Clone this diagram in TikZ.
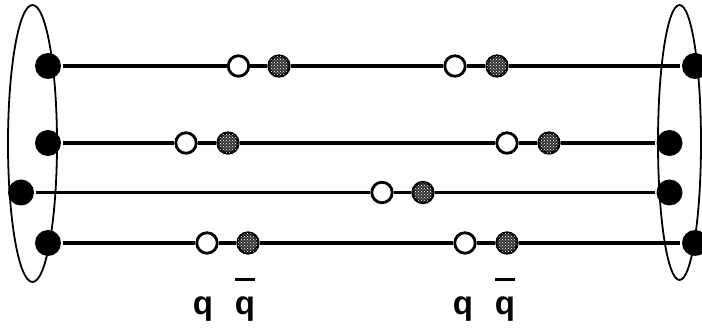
\documentclass[tikz,border=0pt]{standalone}
\usepackage{fontspec}
\setmainfont{Liberation Sans}
\usetikzlibrary{patterns}

\newcommand{\qbar}{\ooalign{q\cr\hidewidth\raisebox{1.04em}{\rule{0.62em}{0.08em}}\hidewidth\cr}}

\tikzset{
  enddot/.style={circle,fill=black,inner sep=0pt,minimum size=26pt},
  quark/.style={circle,draw=black,line width=2.8pt,fill=white,inner sep=0pt,minimum size=20.5pt},
  antiquark/.style={circle,draw=black,line width=2.8pt,fill=black!80,inner sep=0pt,minimum size=20.5pt,
    postaction={pattern=crosshatch dots,pattern color=white}},
  flavour/.style={anchor=base,inner sep=1pt,font=\fontsize{33}{35}\selectfont\bfseries}
}

\begin{document}
\begin{tikzpicture}[x=1pt,y=-1pt,line width=3.2pt]
\path[use as bounding box] (0,0) rectangle (702,328);
% the two hadrons
\draw[line width=1.8pt] (32.5,143.5) ellipse [x radius=24.5,y radius=138.5];
\draw[line width=1.8pt] (679.5,142.5) ellipse [x radius=21.5,y radius=137.5];
% string end points
\node[enddot] (L1) at (48,66) {};
\node[enddot] (L2) at (48,143) {};
\node[enddot] (L3) at (21,192.5) {};
\node[enddot] (L4) at (48,243) {};
\node[enddot] (R1) at (695,66) {};
\node[enddot] (R2) at (669.5,143) {};
\node[enddot] (R3) at (669.5,192.5) {};
\node[enddot] (R4) at (695,243) {};
% q qbar pairs
\node[quark] (q1a) at (238.5,66) {};
\node[antiquark] (a1a) at (279,66) {};
\node[quark] (q1b) at (455,66) {};
\node[antiquark] (a1b) at (497,66) {};
\node[quark] (q2a) at (186,143) {};
\node[antiquark] (a2a) at (228,143) {};
\node[quark] (q2b) at (507,143) {};
\node[antiquark] (a2b) at (549,143) {};
\node[quark] (q3a) at (382,192.5) {};
\node[antiquark] (a3a) at (423,192.5) {};
\node[quark] (q4a) at (207,243) {};
\node[antiquark] (a4a) at (248,243) {};
\node[quark] (q4b) at (465,243) {};
\node[antiquark] (a4b) at (507,243) {};
% strings
\draw (L1) -- (q1a) -- (a1a) -- (q1b) -- (a1b) -- (R1);
\draw (L2) -- (q2a) -- (a2a) -- (q2b) -- (a2b) -- (R2);
\draw (L3) -- (q3a) -- (a3a) -- (R3);
\draw (L4) -- (q4a) -- (a4a) -- (q4b) -- (a4b) -- (R4);
% labels
\node[flavour] (tq1) at (203,315) {q};
\node[flavour] (tqb1) at (245,315) {\qbar};
\node[flavour] (tq2) at (463,315) {q};
\node[flavour] (tqb2) at (505,315) {\qbar};
\end{tikzpicture}
\end{document}
